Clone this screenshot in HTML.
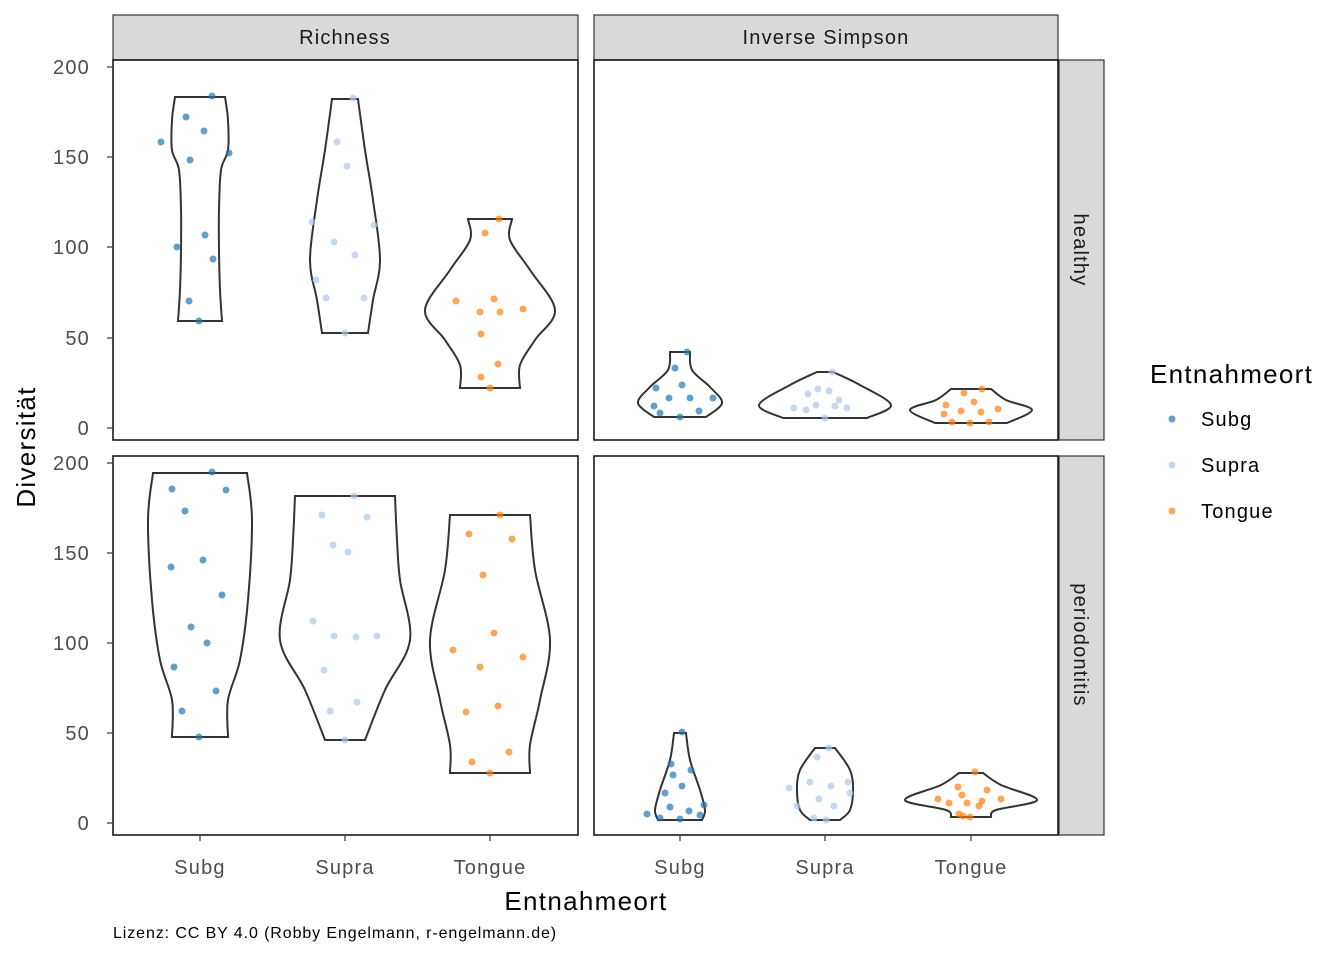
<!DOCTYPE html>
<html><head><meta charset="utf-8"><style>
html,body{margin:0;padding:0;background:#fff;}
svg{display:block;font-family:"Liberation Sans",Arial,sans-serif;}
.t19{font-size:20px;letter-spacing:1.2px;}
.t24{font-size:26px;letter-spacing:1.3px;}
</style></head><body>
<svg id="s" width="1344" height="960" viewBox="0 0 1344 960" xmlns="http://www.w3.org/2000/svg">
<rect width="1344" height="960" fill="#fff"/>
<rect x="113" y="15" width="465" height="45" fill="#d9d9d9" stroke="#333" stroke-width="1.2"/>
<rect x="594" y="15" width="464" height="45" fill="#d9d9d9" stroke="#333" stroke-width="1.2"/>
<rect x="1059" y="60" width="45" height="380" fill="#d9d9d9" stroke="#333" stroke-width="1.2"/>
<rect x="1059" y="456" width="45" height="379" fill="#d9d9d9" stroke="#333" stroke-width="1.2"/>
<text x="345" y="44" class="t19" fill="#1a1a1a" text-anchor="middle">Richness</text>
<text x="826" y="44" class="t19" fill="#1a1a1a" text-anchor="middle">Inverse Simpson</text>
<text x="0" y="0" class="t19" fill="#1a1a1a" text-anchor="middle" transform="translate(1074,250) rotate(90)">healthy</text>
<text x="0" y="0" class="t19" fill="#1a1a1a" text-anchor="middle" transform="translate(1074,645) rotate(90)">periodontitis</text>
<g id="v"></g>
<g fill="none" stroke="#1a1a1a" stroke-width="1.6">
<rect x="113" y="60" width="465" height="380"/>
<rect x="594" y="60" width="464" height="380"/>
<rect x="113" y="456" width="465" height="379"/>
<rect x="594" y="456" width="464" height="379"/>
</g>
<g stroke="#333" stroke-width="1.2">
<line x1="107" y1="67" x2="113" y2="67"/><line x1="107" y1="157" x2="113" y2="157"/><line x1="107" y1="247" x2="113" y2="247"/><line x1="107" y1="338" x2="113" y2="338"/><line x1="107" y1="428" x2="113" y2="428"/>
<line x1="107" y1="463" x2="113" y2="463"/><line x1="107" y1="553" x2="113" y2="553"/><line x1="107" y1="643" x2="113" y2="643"/><line x1="107" y1="733" x2="113" y2="733"/><line x1="107" y1="823" x2="113" y2="823"/>
<line x1="200" y1="835" x2="200" y2="841"/><line x1="345" y1="835" x2="345" y2="841"/><line x1="490" y1="835" x2="490" y2="841"/>
<line x1="680" y1="835" x2="680" y2="841"/><line x1="825" y1="835" x2="825" y2="841"/><line x1="971" y1="835" x2="971" y2="841"/>
</g>
<g class="t19" fill="#4d4d4d" text-anchor="end">
<text x="90" y="74">200</text><text x="90" y="164">150</text><text x="90" y="254">100</text><text x="90" y="345">50</text><text x="90" y="435">0</text>
<text x="90" y="470">200</text><text x="90" y="560">150</text><text x="90" y="650">100</text><text x="90" y="740">50</text><text x="90" y="830">0</text>
</g>
<g class="t19" fill="#4d4d4d" text-anchor="middle">
<text x="200" y="874">Subg</text><text x="345" y="874">Supra</text><text x="490" y="874">Tongue</text>
<text x="680" y="874">Subg</text><text x="825" y="874">Supra</text><text x="971" y="874">Tongue</text>
</g>
<text x="586" y="910" class="t24" fill="#000" text-anchor="middle">Entnahmeort</text>
<text transform="translate(35,447) rotate(-90)" class="t24" fill="#000" text-anchor="middle">Diversität</text>
<text x="1150" y="383" class="t24" fill="#000">Entnahmeort</text>
<circle cx="1172" cy="419" r="3.5" fill="#1f77b4" fill-opacity="0.7"/>
<circle cx="1172" cy="465" r="3.5" fill="#aec7e8" fill-opacity="0.7"/>
<circle cx="1172" cy="511" r="3.5" fill="#ff7f0e" fill-opacity="0.7"/>
<text x="1201" y="426" class="t19" fill="#000">Subg</text>
<text x="1201" y="472" class="t19" fill="#000">Supra</text>
<text x="1201" y="518" class="t19" fill="#000">Tongue</text>
<text x="113" y="938" font-size="16" letter-spacing="0.9" fill="#000">Lizenz: CC BY 4.0 (Robby Engelmann, r-engelmann.de)</text>
</svg>
<script>
var NS="http://www.w3.org/2000/svg",g=document.getElementById("v");
function cr(p){var d="M"+p[0][0]+","+p[0][1];for(var i=0;i<p.length-1;i++){var p0=p[Math.max(i-1,0)],p1=p[i],p2=p[i+1],p3=p[Math.min(i+2,p.length-1)];d+=" C"+(p1[0]+(p2[0]-p0[0])/6)+","+(p1[1]+(p2[1]-p0[1])/6)+" "+(p2[0]-(p3[0]-p1[0])/6)+","+(p2[1]-(p3[1]-p1[1])/6)+" "+p2[0]+","+p2[1];}return d;}
function vio(c,pr){var r=pr.map(function(a){return[c+a[1],a[0]]});var l=pr.slice().reverse().map(function(a){return[c-a[1],a[0]]});
var d=cr(r)+" L"+l[0][0]+","+l[0][1]+cr(l).replace(/^M[^C]*/," ")+" Z";var e=document.createElementNS(NS,"path");e.setAttribute("d",d);e.setAttribute("fill","none");e.setAttribute("stroke","#333");e.setAttribute("stroke-width","2");g.appendChild(e);}
function pts(col,a){a.forEach(function(p){var e=document.createElementNS(NS,"circle");e.setAttribute("cx",p[0]);e.setAttribute("cy",p[1]);e.setAttribute("r","3.5");e.setAttribute("fill",col);e.setAttribute("fill-opacity","0.7");g.appendChild(e);});}
vio(200,[[97,25],[120,28],[150,28],[170,21],[210,19],[250,19],[290,20],[321,22]]);
vio(345,[[99,13],[150,20],[200,28],[260,35],[300,28],[333,23]]);
vio(490,[[219,22],[240,20],[270,40],[310,65],[340,45],[365,30],[388,30]]);
vio(680,[[352,10],[370,12],[387,30],[403,42],[417,26]]);
vio(825,[[372,8],[385,35],[405,66],[418,42]]);
vio(971,[[389,20],[400,35],[410,61],[423,36]]);
vio(200,[[473,47],[520,52],[600,48],[660,40],[700,28],[737,28]]);
vio(345,[[496,50],[540,52],[580,55],[640,65],[690,40],[740,20]]);
vio(490,[[515,40],[570,45],[640,60],[700,50],[745,40],[773,40]]);
vio(680,[[733,6],[760,10],[790,20],[810,25],[820,22]]);
vio(825,[[748,10],[770,25],[790,28],[810,25],[820,15]]);
vio(971,[[773,12],[785,30],[800,66],[810,25],[817,20]]);
var B="#1f77b4",S="#aec7e8",T="#ff7f0e";
pts(B,[[212,96],[186,117],[204,131],[161,142],[190,160],[229,153],[205,235],[177,247],[213,259],[189,301],[199,321]]);
pts(S,[[353,98],[337,142],[347,166],[312,222],[374,225],[334,242],[355,255],[316,280],[326,298],[364,298],[345,333]]);
pts(T,[[499,219],[485,233],[456,301],[494,299],[480,312],[500,312],[523,309],[481,334],[498,364],[481,377],[490,388]]);
pts(B,[[687,352],[675,368],[656,388],[682,385],[669,398],[690,398],[713,398],[654,406],[660,413],[699,411],[680,417]]);
pts(S,[[832,372],[818,389],[829,391],[808,394],[839,400],[794,408],[816,405],[835,406],[847,408],[806,410],[825,418]]);
pts(T,[[982,389],[964,393],[946,405],[974,402],[961,411],[944,414],[981,412],[998,409],[952,422],[970,423],[989,422]]);
pts(B,[[212,472],[172,489],[226,490],[185,511],[203,560],[171,567],[222,595],[191,627],[207,643],[174,667],[216,691],[182,711],[199,737]]);
pts(S,[[354,496],[322,515],[367,517],[333,545],[348,552],[313,621],[334,636],[356,637],[377,636],[324,670],[357,702],[330,711],[345,740]]);
pts(T,[[500,515],[469,534],[512,539],[483,575],[453,650],[494,633],[480,667],[523,657],[466,712],[498,706],[509,752],[472,762],[490,773]]);
pts(B,[[682,732],[671,764],[673,775],[682,786],[691,770],[665,793],[704,805],[670,807],[647,814],[689,811],[700,815],[660,818],[680,819]]);
pts(S,[[829,748],[817,757],[810,782],[789,788],[831,786],[848,782],[850,793],[819,799],[797,806],[834,806],[814,818],[826,820]]);
pts(T,[[975,772],[958,787],[987,790],[962,795],[938,799],[982,801],[1001,799],[949,803],[967,803],[959,814],[979,806],[963,816],[970,817]]);
</script>
</body></html>
